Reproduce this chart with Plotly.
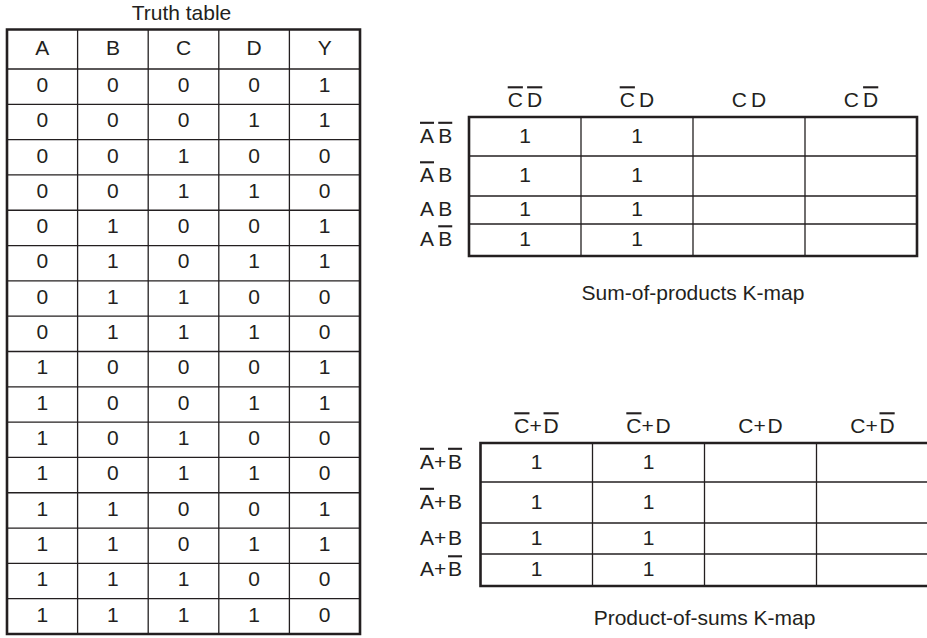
import plotly.graph_objects as go

# ---------------- data ----------------
tt_headers = ["A", "B", "C", "D", "Y"]
col_A = [0, 0, 0, 0, 0, 0, 0, 0, 1, 1, 1, 1, 1, 1, 1, 1]
col_B = [0, 0, 0, 0, 1, 1, 1, 1, 0, 0, 0, 0, 1, 1, 1, 1]
col_C = [0, 0, 1, 1, 0, 0, 1, 1, 0, 0, 1, 1, 0, 0, 1, 1]
col_D = [0, 1, 0, 1, 0, 1, 0, 1, 0, 1, 0, 1, 0, 1, 0, 1]
col_Y = [1, 1, 0, 0, 1, 1, 0, 0, 1, 1, 0, 0, 1, 1, 0, 0]

OV = "<span style='text-decoration:overline'>%s</span>"
TS = "\u2009"
PL = "+\u200a"
sop_col_labels = [OV % "C" + TS + OV % "D", OV % "C" + TS + "D", "C" + TS + "D", "C" + TS + OV % "D"]
sop_row_labels = [OV % "A" + TS + OV % "B", OV % "A" + TS + "B", "A" + TS + "B", "A" + TS + OV % "B"]
sop_values = [["1", "1", "", ""],
              ["1", "1", "", ""],
              ["1", "1", "", ""],
              ["1", "1", "", ""]]

pos_col_labels = [OV % "C" + PL + OV % "D", OV % "C" + PL + "D", "C" + PL + "D", "C" + PL + OV % "D"]
pos_row_labels = [OV % "A" + PL + OV % "B", OV % "A" + PL + "B", "A" + PL + "B", "A" + PL + OV % "B"]
pos_values = [["1", "1", "", ""],
              ["1", "1", "", ""],
              ["1", "1", "", ""],
              ["1", "1", "", ""]]

titles = ["Truth table", "Sum-of-products K-map", "Product-of-sums K-map"]

# ---------------- layout geometry ----------------
W, H = 927, 638
FONT = "Liberation Sans, Arial, Helvetica, sans-serif"
FS = 21
INK = "#231f20"
OUTER_W = 2.6
INNER_W = 1.3

fig = go.Figure()
shapes = []


def hline(x0, x1, y, w):
    shapes.append(dict(type="line", xref="x", yref="y", x0=x0, x1=x1, y0=y, y1=y,
                       line=dict(color=INK, width=w)))


def vline(x, y0, y1, w):
    shapes.append(dict(type="line", xref="x", yref="y", x0=x, x1=x, y0=y0, y1=y1,
                       line=dict(color=INK, width=w)))


def text_trace(xs, ys, texts, size=FS, pos="middle center"):
    fig.add_trace(go.Scatter(x=xs, y=ys, text=texts, mode="text",
                             textposition=pos,
                             textfont=dict(family=FONT, size=size, color=INK),
                             hoverinfo="skip", showlegend=False))


# ---- truth table ----
tt_left, tt_right = 7, 360
tt_top, tt_head_bot, tt_bot = 29.5, 69, 634
columns = [col_A, col_B, col_C, col_D, col_Y]
ncol = len(columns)
nrow = len(col_A)
cw = (tt_right - tt_left) / ncol
rh = (tt_bot - tt_head_bot) / nrow
row_edges = [tt_head_bot + i * rh for i in range(nrow + 1)]

for i in range(1, ncol):
    vline(tt_left + i * cw, tt_top, tt_bot, INNER_W)
hline(tt_left, tt_right, tt_head_bot, INNER_W)
for y in row_edges[1:-1]:
    hline(tt_left, tt_right, y, INNER_W)
shapes.append(dict(type="rect", xref="x", yref="y", x0=tt_left, x1=tt_right, y0=tt_top, y1=tt_bot,
                   line=dict(color=INK, width=OUTER_W)))

xs, ys, ts = [], [], []
for j, h in enumerate(tt_headers):
    xs.append(tt_left + (j + 0.5) * cw); ys.append((tt_top + tt_head_bot) / 2); ts.append(h)
for j, col in enumerate(columns):
    for i, v in enumerate(col):
        xs.append(tt_left + (j + 0.5) * cw)
        ys.append((row_edges[i] + row_edges[i + 1]) / 2)
        ts.append(str(v))
text_trace(xs, ys, ts)
text_trace([(tt_left + tt_right) / 2 - 2], [14.5], [titles[0]])


# ---- K-maps ----
def kmap(left, right, row_edges_k, col_labels, row_labels, values, label_x, head_y, title, title_y):
    cwk = (right - left) / len(col_labels)
    top, bot = row_edges_k[0], row_edges_k[-1]
    for i in range(1, len(col_labels)):
        vline(left + i * cwk, top, bot, INNER_W)
    for y in row_edges_k[1:-1]:
        hline(left, right, y, INNER_W)
    shapes.append(dict(type="rect", xref="x", yref="y", x0=left, x1=right, y0=top, y1=bot,
                       line=dict(color=INK, width=OUTER_W)))
    xs, ys, ts = [], [], []
    for j, lab in enumerate(col_labels):
        xs.append(left + (j + 0.5) * cwk); ys.append(head_y); ts.append(lab)
    for i, row in enumerate(values):
        for j, v in enumerate(row):
            if v:
                xs.append(left + (j + 0.5) * cwk)
                ys.append((row_edges_k[i] + row_edges_k[i + 1]) / 2 + 1)
                ts.append(v)
    text_trace(xs, ys, ts)
    text_trace([label_x] * len(row_labels),
               [(row_edges_k[i] + row_edges_k[i + 1]) / 2 + 1 for i in range(len(row_labels))],
               row_labels, pos="middle right")
    text_trace([(left + right) / 2], [title_y], [title])


kmap(469, 917, [117, 156, 196, 224, 256], sop_col_labels, sop_row_labels, sop_values,
     420, 102, titles[1], 295)
kmap(480.5, 928.5, [443, 482, 523, 554, 586], pos_col_labels, pos_row_labels, pos_values,
     420, 428, titles[2], 620)

fig.update_layout(
    width=W, height=H,
    margin=dict(l=0, r=0, t=0, b=0),
    paper_bgcolor="white", plot_bgcolor="white",
    xaxis=dict(range=[0, W], visible=False, fixedrange=True),
    yaxis=dict(range=[H, 0], visible=False, fixedrange=True),
    shapes=shapes,
    showlegend=False,
)
fig.write_html("out.html", config={"displayModeBar": False},
               post_script="document.body.style.margin='0px';document.body.style.overflow='hidden';")
